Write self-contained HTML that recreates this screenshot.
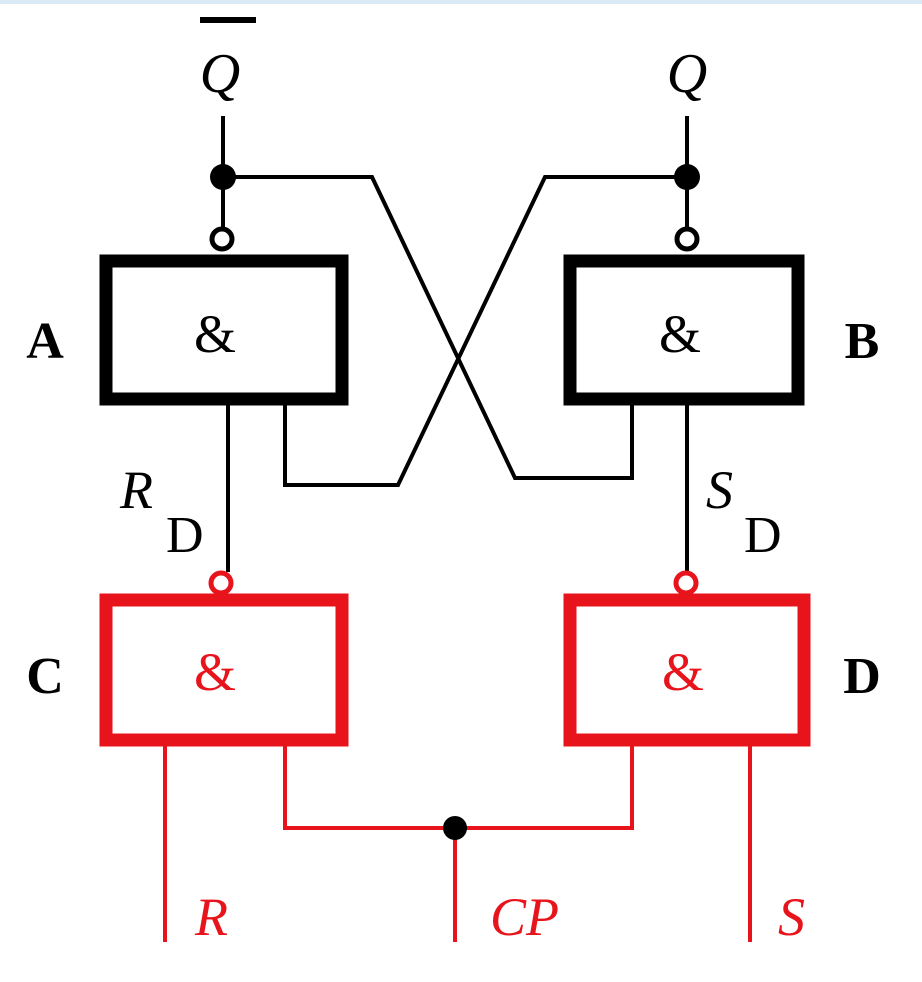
<!DOCTYPE html>
<html><head><meta charset="utf-8"><style>
html,body{margin:0;padding:0;background:#fff;}
svg{display:block;}
text{font-family:"Liberation Serif",serif;}
</style></head><body>
<svg width="922" height="982" viewBox="0 0 922 982">
<rect x="0" y="0" width="922" height="4" fill="#dbe9f7"/>
<g stroke="#000" fill="none" stroke-width="4">
<line x1="223" y1="116" x2="223" y2="228"/>
<line x1="687" y1="116" x2="687" y2="228"/>
<polyline points="223,177 372,177 515,478 632,478 632,405"/>
<polyline points="687,177 545,177 398,485 285,485 285,405"/>
<line x1="228" y1="405" x2="228" y2="572"/>
<line x1="687" y1="405" x2="687" y2="572"/>
</g>
<circle cx="223" cy="177" r="13" fill="#000"/>
<circle cx="687" cy="177" r="13" fill="#000"/>
<circle cx="222" cy="239" r="10" fill="#fff" stroke="#000" stroke-width="5"/>
<circle cx="687" cy="239" r="10" fill="#fff" stroke="#000" stroke-width="5"/>
<rect x="106" y="261" width="236" height="138" fill="#fff" stroke="#000" stroke-width="13"/>
<rect x="570" y="261" width="228" height="138" fill="#fff" stroke="#000" stroke-width="13"/>
<g stroke="#e8141c" fill="none" stroke-width="4">
<line x1="165" y1="745" x2="165" y2="942"/>
<polyline points="285,745 285,828 632,828 632,745"/>
<line x1="455" y1="828" x2="455" y2="942"/>
<line x1="750" y1="745" x2="750" y2="942"/>
</g>
<circle cx="455" cy="828" r="12" fill="#000"/>
<circle cx="221" cy="583" r="10" fill="#fff" stroke="#e8141c" stroke-width="5"/>
<circle cx="686" cy="583" r="10" fill="#fff" stroke="#e8141c" stroke-width="5"/>
<rect x="106" y="600" width="236" height="140" fill="#fff" stroke="#e8141c" stroke-width="13"/>
<rect x="570" y="600" width="234" height="140" fill="#fff" stroke="#e8141c" stroke-width="13"/>
<g font-size="54" text-anchor="middle">
<text x="215" y="352">&amp;</text>
<text x="680" y="352">&amp;</text>
<text x="215" y="690" fill="#e8141c">&amp;</text>
<text x="683" y="690" fill="#e8141c">&amp;</text>
</g>
<g font-size="52" text-anchor="middle" font-weight="bold">
<text x="45" y="358">A</text>
<text x="862" y="358">B</text>
<text x="45" y="693">C</text>
<text x="862" y="693">D</text>
</g>
<rect x="200" y="17" width="56" height="6" fill="#000"/>
<text x="220" y="92" font-size="56" font-style="italic" text-anchor="middle">Q</text>
<text x="687" y="92" font-size="56" font-style="italic" text-anchor="middle">Q</text>
<text x="120" y="508" font-size="54" font-style="italic">R</text>
<text x="166" y="552" font-size="52">D</text>
<text x="706" y="508" font-size="54" font-style="italic">S</text>
<text x="744" y="552" font-size="52">D</text>
<text x="195" y="935" font-size="54" font-style="italic" fill="#e8141c">R</text>
<text x="490" y="935" font-size="54" font-style="italic" fill="#e8141c">CP</text>
<text x="778" y="935" font-size="54" font-style="italic" fill="#e8141c">S</text>
</svg>
</body></html>
